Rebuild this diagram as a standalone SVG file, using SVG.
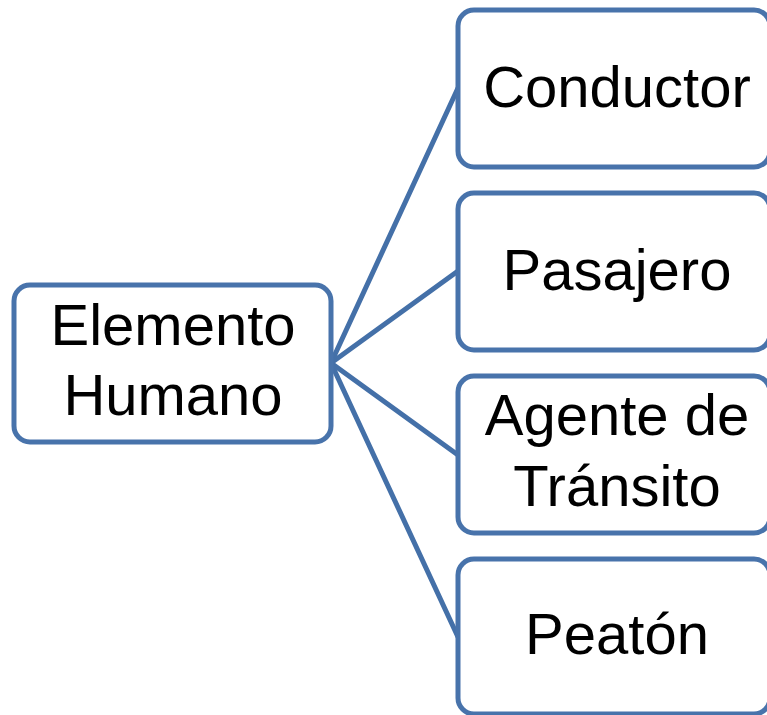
<svg xmlns="http://www.w3.org/2000/svg" width="767" height="715" viewBox="0 0 767 715">
<style>
.box{fill:#fff;stroke:#4873AB;stroke-width:5}
.con{stroke:#4470A8;stroke-width:5;fill:none;stroke-linecap:round}
.t{font-family:"Liberation Sans",Arial,sans-serif;font-size:58px;fill:#000;text-anchor:middle}
</style>
<rect width="767" height="715" fill="#fff"/>
<g id="connectors">
<line class="con" x1="331" y1="363" x2="458" y2="88"/>
<line class="con" x1="331" y1="363" x2="458" y2="271"/>
<line class="con" x1="331" y1="363" x2="458" y2="455"/>
<line class="con" x1="331" y1="363" x2="458" y2="637"/>
</g>
<g id="elemento-humano">
<rect class="box" x="14" y="285" width="317" height="157" rx="16"/>
<text class="t" x="173" y="345">Elemento</text>
<text class="t" x="173" y="415">Humano</text>
</g>
<g id="conductor">
<rect class="box" x="458" y="10" width="312" height="157" rx="16"/>
<text class="t" x="617" y="107">Conductor</text>
</g>
<g id="pasajero">
<rect class="box" x="458" y="193" width="312" height="157" rx="16"/>
<text class="t" x="617" y="290">Pasajero</text>
</g>
<g id="agente">
<rect class="box" x="458" y="376" width="312" height="157" rx="16"/>
<text class="t" x="617" y="435">Agente de</text>
<text class="t" x="617" y="506">Tránsito</text>
</g>
<g id="peaton">
<rect class="box" x="458" y="559" width="312" height="155" rx="16"/>
<text class="t" x="617" y="654">Peatón</text>
</g>
</svg>
